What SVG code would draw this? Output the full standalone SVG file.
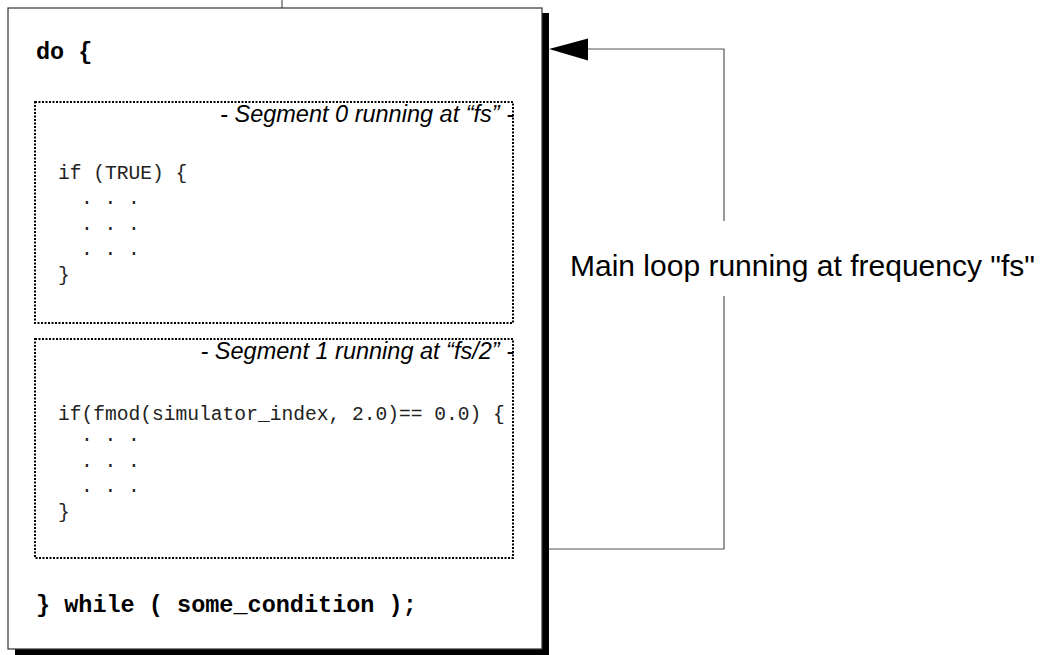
<svg xmlns="http://www.w3.org/2000/svg" width="1047" height="655" viewBox="0 0 1047 655">
<style>
.code{font-family:"Liberation Mono","Courier New",monospace;font-size:19.6px;fill:#222;white-space:pre}
.codeb{font-family:"Liberation Mono","Courier New",monospace;font-size:23.5px;font-weight:bold;fill:#000;white-space:pre}
.seg{font-family:"Liberation Sans",Arial,sans-serif;font-size:23.5px;font-style:italic;fill:#000}
.lbl{font-family:"Liberation Sans",Arial,sans-serif;font-size:30px;fill:#000}
.dot{fill:none;stroke:#000;stroke-width:2;stroke-dasharray:2 1.5}
.conn{fill:none;stroke:#555;stroke-width:1.2}
</style>
<rect width="1047" height="655" fill="#fff"/>
<g id="connectors">
<line class="conn" x1="282" y1="0" x2="282" y2="8"/>
<polyline class="conn" points="588,49 724,49 724,221"/>
<polyline class="conn" points="724,296 724,549 549,549"/>
<polygon points="549,49 588,38.5 588,60.5" fill="#000"/>
</g>
<g id="main-loop">
<rect x="15" y="13" width="534" height="645" fill="#000"/>
<rect x="8" y="8" width="534" height="641" fill="#fff" stroke="#333" stroke-width="1.2"/>
<text class="codeb" x="36" y="59">do {</text>
<text class="codeb" x="36" y="612">} while ( some_condition );</text>
</g>
<g id="segment0">
<rect class="dot" x="35" y="102" width="478" height="221"/>
<text class="seg" x="514" y="122" text-anchor="end">- Segment 0 running at “fs” -</text>
<text class="code" x="58" y="179">if (TRUE) {</text>
<text class="code" x="81" y="204">. . .</text>
<text class="code" x="81" y="229.5">. . .</text>
<text class="code" x="81" y="255">. . .</text>
<text class="code" x="58" y="281">}</text>
</g>
<g id="segment1">
<rect class="dot" x="35" y="339" width="478" height="219"/>
<text class="seg" x="514" y="359" text-anchor="end">- Segment 1 running at “fs/2” -</text>
<text class="code" x="58" y="420">if(fmod(simulator_index, 2.0)== 0.0) {</text>
<text class="code" x="81" y="441">. . .</text>
<text class="code" x="81" y="466.5">. . .</text>
<text class="code" x="81" y="492">. . .</text>
<text class="code" x="58" y="518">}</text>
</g>
<g id="label">
<text class="lbl" x="570" y="276">Main loop running at frequency "fs"</text>
</g>
</svg>
